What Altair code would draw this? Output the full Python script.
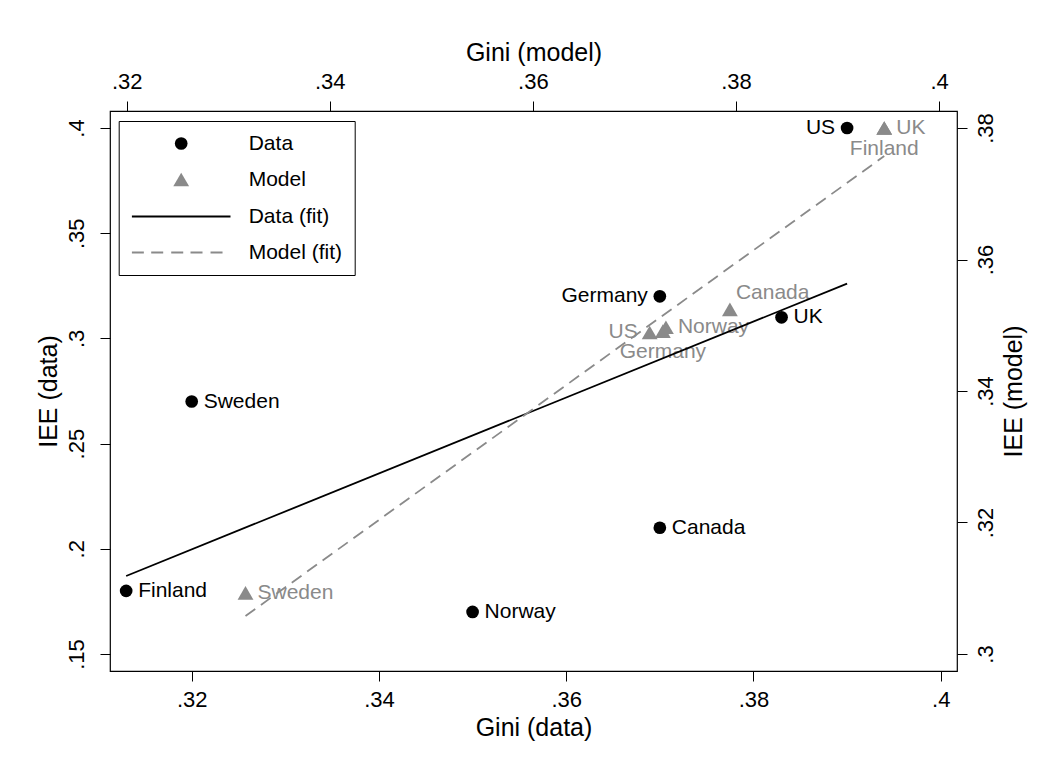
import altair as alt
import pandas as pd

# ---------------- data ----------------
countries = ["US", "UK", "Germany", "Canada", "Norway", "Sweden", "Finland"]
gini_data = [0.390, 0.383, 0.370, 0.370, 0.350, 0.320, 0.313]
iee_data = [0.40, 0.31, 0.32, 0.21, 0.17, 0.27, 0.18]
gini_model = [0.3715, 0.3946, 0.3728, 0.3794, 0.3731, 0.3317, 0.3946]
iee_model = [0.3489, 0.3800, 0.3491, 0.3524, 0.3497, 0.3093, 0.3800]

series_names = ["Data", "Model", "Data (fit)", "Model (fit)"]
x_ticks = [0.32, 0.34, 0.36, 0.38, 0.40]
y_data_ticks = [0.15, 0.20, 0.25, 0.30, 0.35, 0.40]
y_model_ticks = [0.30, 0.32, 0.34, 0.36, 0.38]

# label placement (clock position of each marker label)
data_label_side = {"US": "left", "Germany": "left"}
model_label_side = {"US": "left", "Finland": "below", "Germany": "below", "Canada": "upright"}

df_data = pd.DataFrame({"country": countries, "gini": gini_data, "iee": iee_data})
df_data["series"] = "Data"
df_data["pos"] = [data_label_side.get(c, "right") for c in countries]

df_model = pd.DataFrame({"country": countries, "gini": gini_model, "iee": iee_model})
df_model["series"] = "Model"
df_model["pos"] = [model_label_side.get(c, "right") for c in countries]

# ---------------- style ----------------
FONT = "Liberation Sans"
GRAY = "#8a8a8a"
TICK_FS = 22
TITLE_FS = 25
LABEL_FS = 21

XD_DOM = [0.311274, 0.40174]
XM_DOM = [0.318356, 0.401764]
YD_DOM = [0.14192, 0.40808]
YM_DOM = [0.297414, 0.382586]

label_expr = "replace(format(datum.value, '.2~f'), '0.', '.')"

LINE_PATH = "M-8.05,0H8.05"
DASH_PATH = "M-8.05,0H-6.1M-4.9,0H-2.94M-1.63,0H0.33M1.52,0H3.48M4.79,0H6.75"


def axis(orient, values, title, vertical=False, **kw):
    params = dict(
        orient=orient, values=values, title=title, labelExpr=label_expr,
        tickSize=10, tickWidth=1, tickColor="black", domain=False, grid=False,
        labelFont=FONT, titleFont=FONT, labelFontSize=TICK_FS, titleFontSize=TITLE_FS,
        labelColor="black", titleColor="black", titleFontWeight="normal",
    )
    if vertical:
        params.update(labelAngle=270, labelAlign="center", titleAngle=270)
    params.update(kw)
    return alt.Axis(**params)


ax_xd = axis("bottom", x_ticks, "Gini (data)", labelPadding=8, titlePadding=5)
ax_xm = axis("top", x_ticks, "Gini (model)", labelPadding=8, titlePadding=5)
ax_yd = axis("left", y_data_ticks, "IEE (data)", vertical=True,
             labelBaseline="bottom", labelPadding=12, titlePadding=4)
ax_ym = axis("right", y_model_ticks, "IEE (model)", vertical=True,
             labelBaseline="top", labelPadding=8, titlePadding=5, titleBaseline="top")


def xenc(dom, ax):
    return alt.X("gini:Q", scale=alt.Scale(domain=dom, nice=False, zero=False), axis=ax)


def yenc(dom, ax):
    return alt.Y("iee:Q", scale=alt.Scale(domain=dom, nice=False, zero=False), axis=ax)


LEG = alt.Legend(
    title=None, orient="none", legendX=8.7, legendY=10,
    labelFont=FONT, labelFontSize=LABEL_FS, labelColor="black",
    labelExpr="datum.label + '  '",
    strokeColor="black", fillColor="white", padding=12, cornerRadius=0,
    rowPadding=14, symbolOffset=40, labelOffset=57, symbolStrokeWidth=2,
    symbolFillColor="black", symbolOpacity=1, labelLimit=300,
)

shape_enc = alt.Shape("series:N", scale=alt.Scale(domain=series_names,
                      range=["circle", "triangle-up", LINE_PATH, DASH_PATH]), legend=LEG)
fill_enc = alt.Fill("series:N", scale=alt.Scale(domain=series_names,
                    range=["black", GRAY, "black", GRAY]), legend=LEG)
stroke_enc = alt.Stroke("series:N", scale=alt.Scale(domain=series_names,
                        range=["transparent", "transparent", "black", GRAY]), legend=LEG)
size_enc = alt.Size("series:N", scale=alt.Scale(type="ordinal", domain=series_names,
                    range=[161, 250, 150, 150]), legend=LEG)

label_styles = {
    "right": dict(align="left", baseline="middle", dx=12),
    "left": dict(align="right", baseline="middle", dx=-12),
    "below": dict(align="center", baseline="middle", dy=21),
    "upright": dict(align="left", baseline="middle", dx=6, dy=-16),
}


def group(df, xd, yd, xa, ya, color):
    x = xenc(xd, xa)
    y = yenc(yd, ya)
    pts = alt.Chart(df).mark_point(filled=True, opacity=1, strokeWidth=2).encode(
        x=x, y=y, shape=shape_enc, fill=fill_enc, stroke=stroke_enc, size=size_enc)
    layers = [pts]
    for pos in sorted(set(df["pos"])):
        layers.append(
            alt.Chart(df).transform_filter(alt.datum.pos == pos)
            .mark_text(font=FONT, fontSize=LABEL_FS, color=color, **label_styles[pos])
            .encode(x=x, y=y, text="country:N")
        )
    return alt.layer(*layers)


def fit(df, xd, yd, **mk):
    return alt.Chart(df).transform_regression("gini", "iee").mark_line(**mk).encode(
        x=xenc(xd, None), y=yenc(yd, None))


g_data = group(df_data, XD_DOM, YD_DOM, ax_xd, ax_yd, "black")
g_model = group(df_model, XM_DOM, YM_DOM, ax_xm, ax_ym, GRAY)
f_data = fit(df_data, XD_DOM, YD_DOM, color="black", strokeWidth=1.8)
f_model = fit(df_model, XM_DOM, YM_DOM, color=GRAY, strokeWidth=1.8, strokeDash=[12, 7])

chart = (
    alt.layer(g_data, g_model, f_data, f_model)
    .resolve_scale(x="independent", y="independent")
    .properties(
        width=847, height=560,
        padding={"left": 110, "top": 111, "right": 94, "bottom": 97},
        autosize=alt.AutoSizeParams(type="none"),
        background="white",
    )
    .configure_view(stroke="black", strokeWidth=1.2)
)

chart.save("out.html", embed_options={"renderer": "svg", "actions": False})
